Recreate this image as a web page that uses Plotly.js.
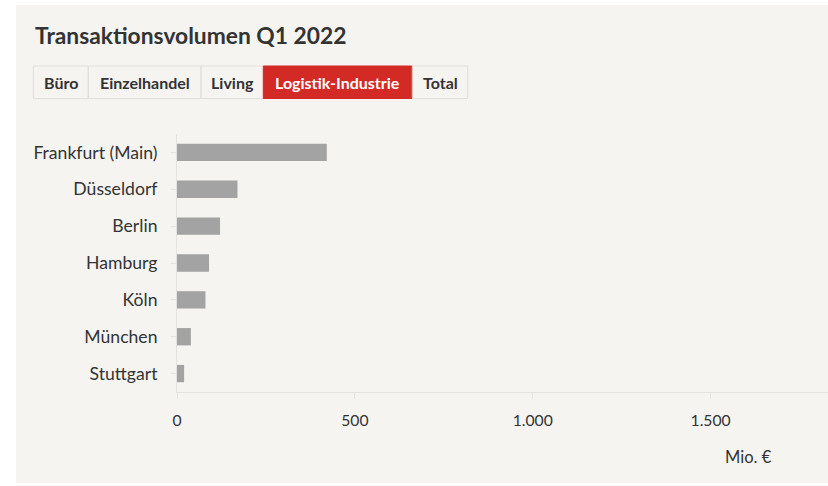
<!DOCTYPE html>
<html><head><meta charset="utf-8">
<script src="https://cdn.plot.ly/plotly-3.0.1.min.js"></script>
<style>
html,body{margin:0;padding:0;background:#ffffff;width:828px;height:486px;overflow:hidden;}
#chart{position:absolute;left:16px;top:5px;width:812px;height:478px;}
</style></head>
<body><div id="chart"></div>
<script>
const cities = ["Frankfurt (Main)", "Düsseldorf", "Berlin", "Hamburg", "Köln", "München", "Stuttgart"];
const volumes = [421, 170, 121, 90, 80, 39, 20];
const tabs = ["Büro", "Einzelhandel", "Living", "Logistik-Industrie", "Total"];
const activeTab = "Logistik-Industrie";
const xTickVals = [0, 500, 1000, 1500];
const xTickText = ["0", "500", "1.000", "1.500"];
const chartTitle = "Transaktionsvolumen Q1 2022";
const unitLabel = "Mio. €";

const W = 812, H = 478;
const M = {l: 161, r: 0, t: 129, b: 91};
const PW = W - M.l - M.r, PH = H - M.t - M.b;
const px = x => (x - M.l) / PW;
const py = y => 1 - (y - M.t) / PH;

const FONT = "Lato, 'Open Sans', sans-serif";
// tab boxes (pixel edges within the chart div)
const tabEdges = [17.3, 72.3, 185, 247.3, 396.3, 451.7];
const tabTop = 61, tabBot = 93.5;
const shapes = [];
const annotations = [];
tabs.forEach((t, i) => {
  const active = t === activeTab;
  shapes.push({type: 'rect', xref: 'paper', yref: 'paper',
    x0: px(tabEdges[i]), x1: px(tabEdges[i+1]), y0: py(tabBot), y1: py(tabTop),
    fillcolor: active ? '#d42a26' : 'rgba(0,0,0,0)',
    line: {color: active ? '#d42a26' : '#e0dfdc', width: 1}, layer: 'above'});
  annotations.push({xref: 'paper', yref: 'paper', x: px((tabEdges[i] + tabEdges[i+1]) / 2),
    y: py((tabTop + tabBot) / 2), text: '<b>' + t + '</b>', showarrow: false,
    xanchor: 'center', yanchor: 'middle',
    font: {family: FONT, size: 16, color: active ? '#ffffff' : '#333333'}});
});
annotations.push({xref: 'paper', yref: 'paper', x: px(17), y: py(30), xanchor: 'left', yanchor: 'middle',
  text: '<b>' + chartTitle + '</b>', showarrow: false, font: {family: FONT, size: 22.8, color: '#333333'}});
annotations.push({xref: 'paper', yref: 'paper', x: px(732), y: py(452), xanchor: 'center', yanchor: 'middle',
  text: unitLabel, showarrow: false, font: {family: FONT, size: 16.5, color: '#333333'}});

const trace = {type: 'bar', orientation: 'h', x: volumes, y: cities,
  marker: {color: '#a3a3a3', line: {width: 0}}, hoverinfo: 'none'};

const layout = {
  width: W, height: H, margin: M,
  paper_bgcolor: '#f5f4f1', plot_bgcolor: '#f5f4f1',
  showlegend: false, bargap: 0.53,
  font: {family: FONT, color: '#333333'},
  xaxis: {range: [0, 1830], tickvals: xTickVals, ticktext: xTickText, showgrid: false,
    zeroline: false, showline: true, linecolor: '#e4e3e0', linewidth: 1,
    ticks: 'outside', ticklen: 6, tickcolor: '#e4e3e0',
    tickfont: {family: FONT, size: 15.7, color: '#333333'}, ticklabelstandoff: 8, fixedrange: true},
  yaxis: {autorange: 'reversed', showgrid: false, zeroline: false, showline: true,
    linecolor: '#e4e3e0', linewidth: 1, ticks: 'outside', ticklen: 5, tickcolor: '#e4e3e0',
    tickfont: {family: FONT, size: 17.6, color: '#333333'}, ticklabelstandoff: 10, fixedrange: true},
  shapes: shapes, annotations: annotations
};
Plotly.newPlot('chart', [trace], layout, {displayModeBar: false, staticPlot: true});
</script></body></html>
